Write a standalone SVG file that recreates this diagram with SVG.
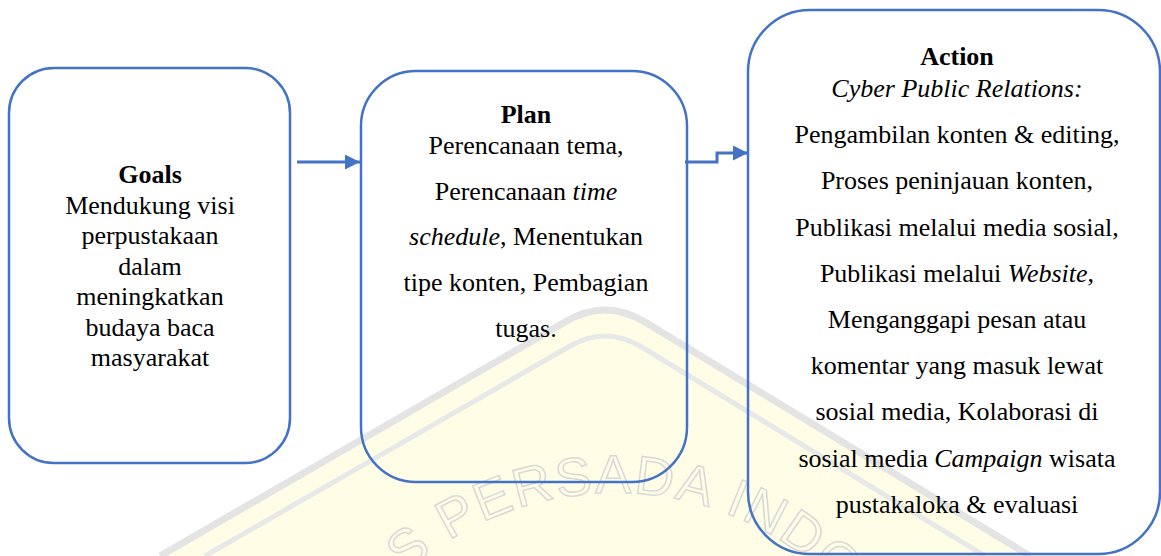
<svg xmlns="http://www.w3.org/2000/svg" width="1161" height="556" viewBox="0 0 1161 556">
<style>
.box{fill:none;stroke:#4472C4;stroke-width:2.5}
.t{font-family:"Liberation Serif","Times New Roman",serif;font-size:26px;fill:#000;text-anchor:middle}
.b{font-weight:bold}
.i{font-style:italic}
.conn{fill:none;stroke:#4472C4;stroke-width:3}
.wm{font-family:"Liberation Sans",Arial,sans-serif;font-size:54px;fill:none;stroke:#d8d8d8;stroke-width:1.5;letter-spacing:2px}
</style>
<defs>
<marker id="arr" markerUnits="userSpaceOnUse" markerWidth="15" markerHeight="15" viewBox="0 0 15 15" refX="15" refY="7.5" orient="auto">
<path d="M0,0 L15,7.5 L0,15 Z" fill="#4472C4"/>
</marker>
<path id="wmarc" d="M 303 805 A 312 312 0 0 1 927 805"/>
</defs>
<rect width="1161" height="556" fill="#ffffff"/>
<g id="watermark">
<path d="M 160 556 L 565 322 Q 605 298 645 322 L 1030 556 Z" fill="#fffde6"/>
<path d="M 160 556 L 565 322 Q 605 298 645 322 L 1030 556" fill="none" stroke="#e4e4e4" stroke-width="7"/>
<path d="M 205 556 L 570 346 Q 605 326 640 346 L 985 556" fill="none" stroke="#e8e8e8" stroke-width="5"/>
<text class="wm"><textPath href="#wmarc" startOffset="222">AS PERSADA INDO</textPath></text>
</g>
<g id="goals">
<rect class="box" x="9" y="68" width="281" height="395" rx="45"/>
<text class="t"><tspan class="b" x="150" y="183">Goals</tspan><tspan x="150" y="214">Mendukung visi</tspan><tspan x="150" y="244">perpustakaan</tspan><tspan x="150" y="275">dalam</tspan><tspan x="150" y="305">meningkatkan</tspan><tspan x="150" y="336">budaya baca</tspan><tspan x="150" y="366">masyarakat</tspan></text>
</g>
<g id="plan">
<rect class="box" x="361" y="71" width="326" height="411" rx="55"/>
<text class="t"><tspan class="b" x="526" y="123">Plan</tspan><tspan x="526" y="154">Perencanaan tema,</tspan><tspan x="526" y="200">Perencanaan <tspan class="i">time</tspan></tspan><tspan x="526" y="245"><tspan class="i">schedule</tspan>, Menentukan</tspan><tspan x="526" y="291">tipe konten, Pembagian</tspan><tspan x="526" y="337">tugas.</tspan></text>
</g>
<g id="action">
<rect class="box" x="748" y="10" width="412" height="544" rx="62"/>
<text class="t"><tspan class="b" x="957" y="65">Action</tspan><tspan class="i" x="957" y="97">Cyber Public Relations:</tspan><tspan x="957" y="143">Pengambilan konten &amp; editing,</tspan><tspan x="957" y="189">Proses peninjauan konten,</tspan><tspan x="957" y="236">Publikasi melalui media sosial,</tspan><tspan x="957" y="282">Publikasi melalui <tspan class="i">Website</tspan>,</tspan><tspan x="957" y="328">Menganggapi pesan atau</tspan><tspan x="957" y="374">komentar yang masuk lewat</tspan><tspan x="957" y="420">sosial media, Kolaborasi di</tspan><tspan x="957" y="467">sosial media <tspan class="i">Campaign</tspan> wisata</tspan><tspan x="957" y="513">pustakaloka &amp; evaluasi</tspan></text>
</g>
<g id="connectors">
<path class="conn" d="M297,162 L360,162" marker-end="url(#arr)"/>
<path class="conn" d="M685,162 L717,162 L717,153 L748,153" marker-end="url(#arr)"/>
</g>
</svg>
